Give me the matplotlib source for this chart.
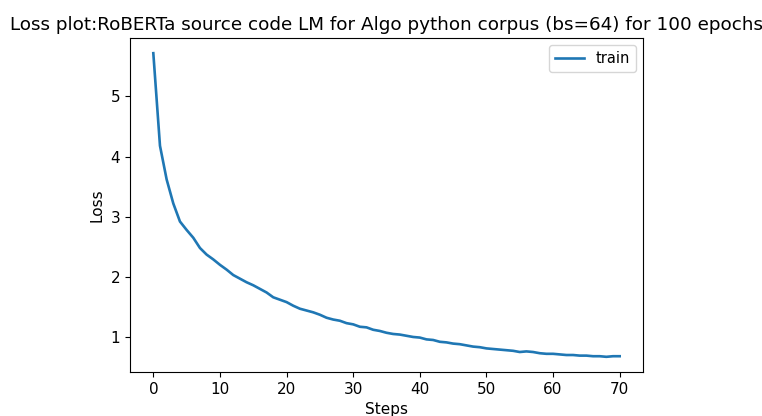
import matplotlib
matplotlib.use("Agg")
import matplotlib.pyplot as plt

steps = list(range(71))
loss = [5.72, 4.18, 3.62, 3.22, 2.92, 2.78, 2.65, 2.48, 2.37, 2.29,
        2.20, 2.12, 2.03, 1.97, 1.91, 1.86, 1.80, 1.74, 1.66, 1.62,
        1.58, 1.52, 1.47, 1.44, 1.41, 1.37, 1.32, 1.29, 1.27, 1.23,
        1.21, 1.17, 1.16, 1.12, 1.10, 1.07, 1.05, 1.04, 1.02, 1.00,
        0.99, 0.96, 0.95, 0.92, 0.91, 0.89, 0.88, 0.86, 0.84, 0.83,
        0.81, 0.80, 0.79, 0.78, 0.77, 0.75, 0.76, 0.75, 0.73, 0.72,
        0.72, 0.71, 0.70, 0.70, 0.69, 0.69, 0.68, 0.68, 0.67, 0.68,
        0.68]

fig = plt.figure(figsize=(7.62, 4.16), dpi=100)
ax = fig.add_axes([130 / 762, 44 / 416, 513 / 762, 334 / 416])

# plotting the loss curve
ax.plot(steps, loss, label='train', linewidth=1.9)

ax.set_xlabel('Steps', fontsize=11)
ax.set_ylabel('Loss', fontsize=11)
ax.tick_params(labelsize=11)
ax.set_title('Loss plot:RoBERTa source code LM for Algo python corpus (bs=64) for 100 epochs',
             fontsize=13.2)
ax.legend(loc='upper right', fontsize=10.5)

fig.savefig('out.png', dpi=100)
